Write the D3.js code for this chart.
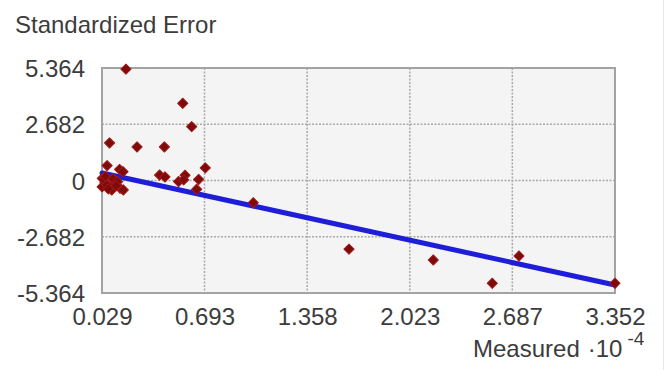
<!DOCTYPE html>
<html>
<head>
<meta charset="utf-8">
<script src="https://cdn.jsdelivr.net/npm/d3@7"></script>
<style>
  html, body { margin: 0; padding: 0; background: #ffffff; }
  svg { display: block; }
  text { font-family: "Liberation Sans", Arial, sans-serif; fill: #3c3c3c; }
</style>
</head>
<body>
<svg id="chart" width="669" height="370"></svg>
<script>
// Measured values (x 10^-4) and their standardized prediction errors
const measured = [
  0.184, 0.552, 0.610, 0.078, 0.256, 0.433, 0.698, 0.062, 0.143, 0.165,
  0.402, 0.437, 0.525, 0.567, 0.558, 0.655, 0.642, 1.009, 1.629, 2.175,
  2.557, 2.730, 3.352,
  0.031, 0.048, 0.081, 0.113, 0.146, 0.167, 0.030, 0.092, 0.040, 0.060,
  0.100, 0.130, 0.070, 0.120, 0.050
];
const stdError = [
  5.31, 3.68, 2.57, 1.79, 1.60, 1.60, 0.60, 0.71, 0.53, 0.42,
  0.26, 0.17, -0.05, 0.25, 0.03, 0.05, -0.42, -1.06, -3.27, -3.79,
  -4.90, -3.60, -4.90,
  0.10, -0.10, -0.30, -0.13, -0.37, -0.45, -0.30, -0.45, 0.05, -0.20,
  0.08, -0.05, -0.40, -0.25, 0.20
];

// Fitted regression line end points [measured, standardized error]
const fitX = [0.029, 3.352];
const fitY = [0.36, -4.98];

// Axis tick values
const xTicks = [0.029, 0.693, 1.358, 2.023, 2.687, 3.352];
const yTicks = [5.364, 2.682, 0, -2.682, -5.364];

const svg = d3.select("#chart");
const plot = { left: 102, right: 615, top: 68, bottom: 293 };

const x = d3.scaleLinear().domain([0.029, 3.352]).range([plot.left, plot.right]);
const y = d3.scaleLinear().domain([-5.364, 5.364]).range([plot.bottom, plot.top]);

// faint frame line at the right side of the panel
svg.append("line")
  .attr("x1", 663.5).attr("x2", 663.5).attr("y1", 0).attr("y2", 370)
  .attr("stroke", "#e6e6e6").attr("stroke-width", 1);

// plot background
svg.append("rect")
  .attr("x", plot.left).attr("y", plot.top)
  .attr("width", plot.right - plot.left).attr("height", plot.bottom - plot.top)
  .attr("fill", "#f4f4f4");

// dotted grid
const grid = svg.append("g")
  .attr("stroke", "#a9a9a9").attr("stroke-width", 1.5).attr("stroke-dasharray", "2,1.5");
grid.selectAll("line.gx").data(xTicks.slice(1, -1)).join("line")
  .attr("class", "gx")
  .attr("x1", d => x(d)).attr("x2", d => x(d))
  .attr("y1", plot.top).attr("y2", plot.bottom);
grid.selectAll("line.gy").data(yTicks.slice(1, -1)).join("line")
  .attr("class", "gy")
  .attr("x1", plot.left).attr("x2", plot.right)
  .attr("y1", d => y(d)).attr("y2", d => y(d));

// plot frame
svg.append("rect")
  .attr("x", plot.left).attr("y", plot.top)
  .attr("width", plot.right - plot.left).attr("height", plot.bottom - plot.top)
  .attr("fill", "none").attr("stroke", "#a3a3a3").attr("stroke-width", 2);

// y axis labels
const yAxis = d3.axisLeft(y).tickValues(yTicks)
  .tickFormat(d => d === 0 ? "0" : d3.format(".3f")(d).replace("\u2212", "-"))
  .tickSize(0).tickPadding(17);
svg.append("g").attr("transform", `translate(${plot.left},0)`).call(yAxis)
  .call(g => g.select(".domain").remove())
  .selectAll("text").style("font-size", "24px").attr("fill", "#3c3c3c")
  .attr("dy", "0.36em");

// x axis labels
const xAxis = d3.axisBottom(x).tickValues(xTicks)
  .tickFormat(d3.format(".3f")).tickSize(0).tickPadding(15);
svg.append("g").attr("transform", `translate(0,${plot.bottom})`).call(xAxis)
  .call(g => g.select(".domain").remove())
  .selectAll("text").style("font-size", "24px").attr("fill", "#3c3c3c");

// titles
svg.append("text").attr("x", 15).attr("y", 33)
  .style("font-size", "24px").text("Standardized Error");

const xt = svg.append("text").attr("x", 473).attr("y", 357)
  .style("font-size", "24px");
xt.append("tspan").text("Measured");
xt.append("tspan").attr("dx", 8).text("\u00b710");
xt.append("tspan").attr("dx", 5).attr("dy", -12).style("font-size", "19px").text("-4");

// regression line
svg.append("line")
  .attr("x1", x(fitX[0])).attr("y1", y(fitY[0]))
  .attr("x2", x(fitX[1])).attr("y2", y(fitY[1]))
  .attr("stroke", "#1e1ed8").attr("stroke-width", 5).attr("stroke-linecap", "round");

// data points
const pts = measured.map((m, i) => [m, stdError[i]]);
svg.append("g").selectAll("path").data(pts).join("path")
  .attr("d", d3.symbol(d3.symbolSquare, 52)())
  .attr("transform", d => `translate(${x(d[0])},${y(d[1])}) rotate(45)`)
  .attr("fill", "#7e0a0a")
  .attr("stroke", "#a01818").attr("stroke-width", 1).attr("stroke-linejoin", "round");
</script>
</body>
</html>
